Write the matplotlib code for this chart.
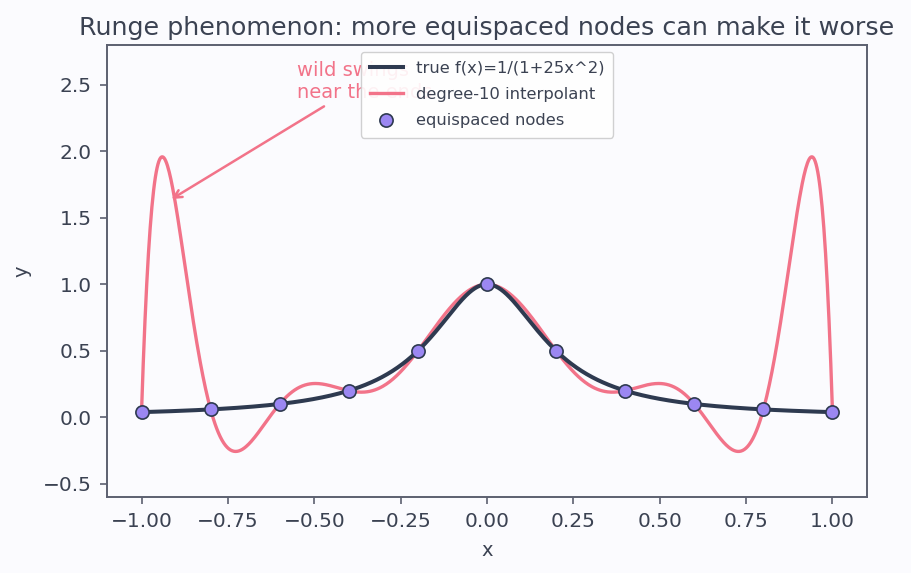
import numpy as np
import matplotlib
matplotlib.use("Agg")
import matplotlib.pyplot as plt

# Nodes (11 equispaced points on [-1, 1]) and their values
node_x = [-1.0, -0.8, -0.6, -0.4, -0.2, 0.0, 0.2, 0.4, 0.6, 0.8, 1.0]
node_y = [0.0385, 0.0588, 0.1, 0.2, 0.5, 1.0, 0.5, 0.2, 0.1, 0.0588, 0.0385]

x_ticks = [-1.0, -0.75, -0.5, -0.25, 0.0, 0.25, 0.5, 0.75, 1.0]
y_ticks = [-0.5, 0.0, 0.5, 1.0, 1.5, 2.0, 2.5]

bg = "#fbfbfe"
txt = "#3b4252"
spine_c = "#5c6070"
true_c = "#2e3a50"
interp_c = "#f27389"
node_c = "#9b87f2"

fig = plt.figure(figsize=(9.12, 5.73), dpi=100, facecolor=bg)
ax = fig.add_axes([0.1173, 0.1326, 0.8334, 0.7889], facecolor=bg)

xs = np.linspace(-1, 1, 800)
true_y = 1.0 / (1.0 + 25.0 * xs ** 2)
coef = np.polyfit(node_x, node_y, 10)
interp_y = np.polyval(coef, xs)

ax.plot(xs, true_y, color=true_c, lw=2.9, label="true f(x)=1/(1+25x^2)", zorder=3)
ax.plot(xs, interp_y, color=interp_c, lw=2.4, label="degree-10 interpolant", zorder=2)
ax.plot(node_x, node_y, "o", ms=9.5, mfc=node_c, mec=true_c, mew=1.2,
        label="equispaced nodes", zorder=4)

ax.annotate("wild swings\nnear the ends", xy=(-0.92, 1.63), xytext=(-0.55, 2.37),
            ha="left", va="bottom", color=interp_c, fontsize=14,
            arrowprops=dict(arrowstyle="->", color=interp_c, lw=1.8), zorder=1)

ax.set_xlim(-1.1, 1.1)
ax.set_ylim(-0.6, 2.8)
ax.set_xticks(x_ticks)
ax.set_yticks(y_ticks)
ax.set_xticklabels([f"{t:.2f}".replace("-", "\u2212") for t in x_ticks])
ax.set_yticklabels([f"{t:.1f}".replace("-", "\u2212") for t in y_ticks])
ax.tick_params(colors=spine_c, labelcolor=txt, labelsize=14.5, length=5, width=1.2, pad=6)
for s in ax.spines.values():
    s.set_color(spine_c)
    s.set_linewidth(1.4)

ax.set_xlabel("x", fontsize=14, color=txt, labelpad=7)
ax.set_ylabel("y", fontsize=14, color=txt, labelpad=8)
ax.set_title("Runge phenomenon: more equispaced nodes can make it worse",
             fontsize=18.3, color=txt, pad=7)

leg = ax.legend(loc="upper center", fontsize=11.8, frameon=True, facecolor="white",
                edgecolor="#cccccc", labelcolor=txt, framealpha=0.9,
                borderaxespad=0.4, labelspacing=0.7, borderpad=0.55)
leg.set_zorder(5)

fig.savefig("out.png", dpi=100, facecolor=bg)
